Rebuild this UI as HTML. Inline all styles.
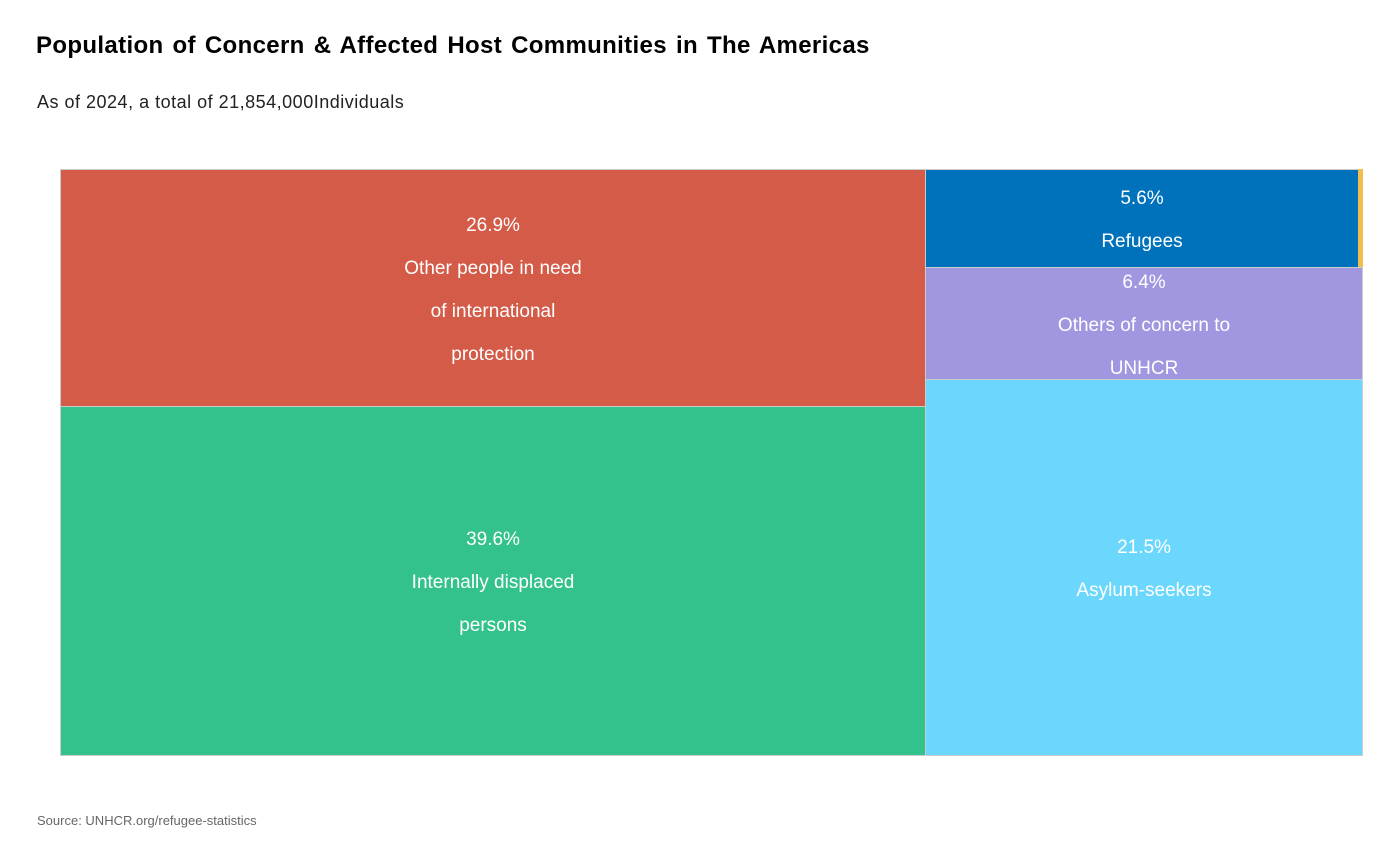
<!DOCTYPE html>
<html><head><meta charset="utf-8"><style>
body{margin:0;width:1400px;height:865px;background:#fff;position:relative;font-family:"Liberation Sans",sans-serif;overflow:hidden}
.t{position:absolute;left:36px;top:32px;font-size:24px;font-weight:bold;color:#000;word-spacing:2px;letter-spacing:0.35px}
.s{position:absolute;left:37px;top:92px;font-size:18px;color:#222;letter-spacing:0.5px}
.src{position:absolute;left:37px;top:813px;font-size:13px;color:#666}
.r{position:absolute;box-sizing:border-box;border:1px solid #ccc;color:#fff;font-size:19px;text-align:center;line-height:43px;display:flex;flex-direction:column;justify-content:center;padding-top:3px}
</style></head><body>
<div class="t">Population of Concern &amp; Affected Host Communities in The Americas</div>
<div class="s">As of 2024, a total of 21,854,000Individuals</div>
<div class="r" style="left:60px;top:169px;width:866px;height:238px;background:#d35b47">26.9%<br>Other people in need<br>of international<br>protection</div>
<div class="r" style="left:60px;top:406px;width:866px;height:350px;background:#33c28b">39.6%<br>Internally displaced<br>persons</div>
<div class="r" style="left:925px;top:169px;width:434px;height:99px;background:#0072bc">5.6%<br>Refugees</div>
<div class="r" style="left:1358px;top:169px;width:5px;height:99px;background:#f1bd4f;border-color:#f1bd4f"></div>
<div class="r" style="left:925px;top:267px;width:438px;height:113px;background:#a097e0">6.4%<br>Others of concern to<br>UNHCR</div>
<div class="r" style="left:925px;top:379px;width:438px;height:377px;background:#6cd7fd">21.5%<br>Asylum-seekers</div>
<div class="src">Source: UNHCR.org/refugee-statistics</div>
</body></html>
